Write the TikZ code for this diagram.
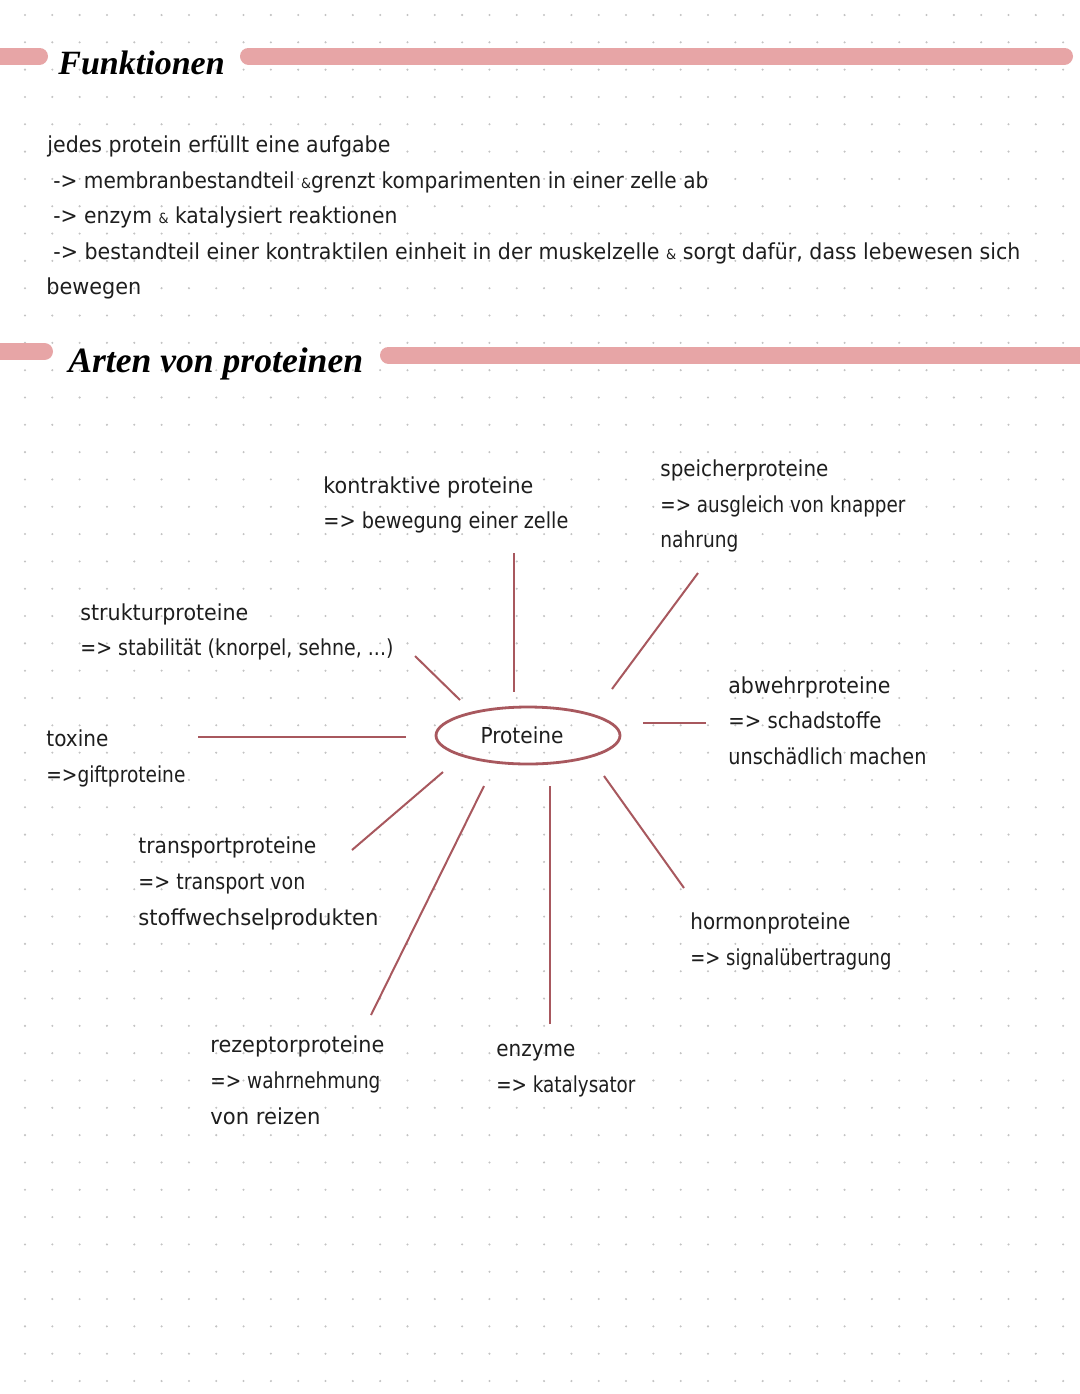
\documentclass[tikz,border=0pt]{standalone}
\usepackage{fontspec}
\usetikzlibrary{shapes.geometric}
\newfontfamily\hand{DejaVu Sans}[FakeStretch=0.935]
\newfontfamily\headf{Liberation Serif}
\definecolor{barc}{RGB}{231,165,166}
\definecolor{linec}{RGB}{168,88,94}
\definecolor{dotc}{RGB}{195,195,195}
\definecolor{txtc}{RGB}{30,30,30}
\tikzset{
  txt/.style={anchor=base west, inner sep=0pt, text=txtc, font=\hand\fontsize{11}{13}\selectfont},
  head/.style={anchor=base west, inner sep=0pt, text=black, font=\headf\bfseries\itshape\fontsize{17}{20}\selectfont},
  bar/.style={draw=barc, line width=8.5pt, line cap=round},
  spoke/.style={draw=linec, line width=1pt},
}
\newcommand{\amp}{{\fontsize{7}{8}\selectfont\&}}
\newcommand{\fw}[2]{\resizebox{#1pt}{\height}{#2}}
\begin{document}
\begin{tikzpicture}[x=0.5pt,y=-0.5pt]
\useasboundingbox (0,0) rectangle (1080,1394);
\fill[white] (0,0) rectangle (1080,1394);
% dot grid
\foreach \i in {0,...,38}{
  \foreach \j in {0,...,50}{
    \fill[dotc] ({25+27.32*\i},{15+27.32*\j}) circle (1.15);
  }
}
% heading bars
\draw[bar] (-30,56) -- (39.5,56);
\draw[bar] (248.5,56) -- (1064.5,56);
\draw[bar] (-30,351.5) -- (44.5,351.5);
\draw[bar] (388.5,355) -- (1110,355);
% headings
\node[head] (h1) at (58,74) {Funktionen};
\node[head, font=\headf\bfseries\itshape\fontsize{17.8}{20}\selectfont] (h2) at (68,372) {Arten von proteinen};
% intro text
\node[txt] (t1) at (47,152) {\fw{171.5}{jedes protein erfüllt eine aufgabe}};
\node[txt] (t2) at (53,188) {\fw{327.5}{-> membranbestandteil \amp grenzt komparimenten in einer zelle ab}};
\node[txt] (t3) at (53,223) {\fw{172}{-> enzym \amp{} katalysiert reaktionen}};
\node[txt] (t4) at (53,259) {\fw{483.5}{-> bestandteil einer kontraktilen einheit in der muskelzelle \amp{} sorgt dafür, dass lebewesen sich}};
\node[txt] (t5) at (46,294) {\fw{47.5}{bewegen}};
% centre
\node[ellipse, draw=linec, line width=1.4pt, minimum width=92pt, minimum height=28.5pt, inner sep=0pt, text=txtc, font=\hand\fontsize{11}{13}\selectfont] (pr) at (528,735.5) {\hspace*{-6pt}\fw{41.5}{Proteine}};
% labels
\node[txt] (ko1) at (323,493) {\fw{105}{kontraktive proteine}};
\node[txt] (ko2) at (323,528) {\fw{122.5}{=> bewegung einer zelle}};
\node[txt] (sp1) at (660,476) {\fw{84}{speicherproteine}};
\node[txt] (sp2) at (660,512) {\fw{122.5}{=> ausgleich von knapper}};
\node[txt] (sp3) at (660,547) {\fw{39}{nahrung}};
\node[txt] (st1) at (80,620) {\fw{84}{strukturproteine}};
\node[txt] (st2) at (80,655) {\fw{156.5}{=> stabilität (knorpel, sehne, ...)}};
\node[txt] (to1) at (46,746) {\fw{31}{toxine}};
\node[txt] (to2) at (46,782) {\fw{69.5}{=>giftproteine}};
\node[txt] (ab1) at (728,693) {\fw{81}{abwehrproteine}};
\node[txt] (ab2) at (728,728) {\fw{76.5}{=> schadstoffe}};
\node[txt] (ab3) at (728,764) {\fw{99}{unschädlich machen}};
\node[txt] (tr1) at (138,853) {\fw{89}{transportproteine}};
\node[txt] (tr2) at (138,889) {\fw{83.5}{=> transport von}};
\node[txt] (tr3) at (138,925) {\fw{120}{stoffwechselprodukten}};
\node[txt] (ho1) at (690,929) {\fw{80}{hormonproteine}};
\node[txt] (ho2) at (690,965) {\fw{100.5}{=> signalübertragung}};
\node[txt] (re1) at (210,1052) {\fw{87}{rezeptorproteine}};
\node[txt] (re2) at (210,1088) {\fw{85}{=> wahrnehmung}};
\node[txt] (re3) at (210,1124) {\fw{55}{von reizen}};
\node[txt] (en1) at (496,1056) {\fw{39.5}{enzyme}};
\node[txt] (en2) at (496,1092) {\fw{69.5}{=> katalysator}};
% spoke end points
\coordinate (a1) at (514,553); \coordinate (b1) at (514,692);
\coordinate (a2) at (698,573); \coordinate (b2) at (612,689);
\coordinate (a3) at (415,656); \coordinate (b3) at (460,700);
\coordinate (a4) at (198,737); \coordinate (b4) at (406,737);
\coordinate (a5) at (706,723); \coordinate (b5) at (643,723);
\coordinate (a6) at (352,850); \coordinate (b6) at (443,772);
\coordinate (a7) at (371,1015); \coordinate (b7) at (484,786);
\coordinate (a8) at (550,1024); \coordinate (b8) at (550,786);
\coordinate (a9) at (684,888); \coordinate (b9) at (604,776);
\foreach \k in {1,...,9}{\draw[spoke] (a\k) -- (b\k);}
\end{tikzpicture}
\end{document}
